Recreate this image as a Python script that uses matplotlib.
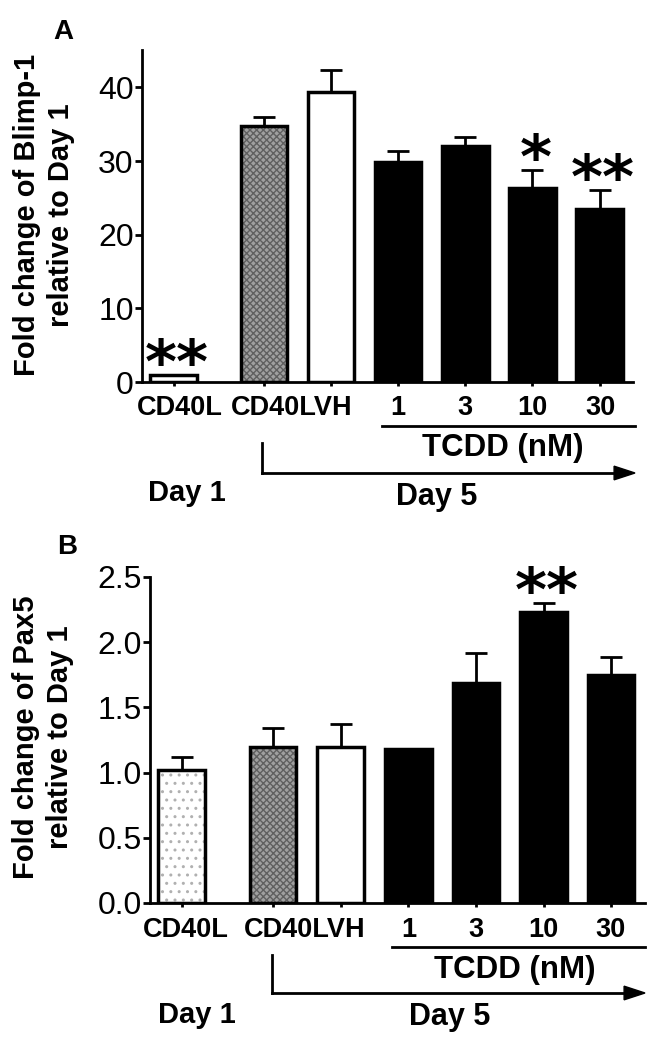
import numpy as np
import matplotlib.pyplot as plt

plt.rcParams['font.family'] = ['Liberation Sans', 'DejaVu Sans']

# データ
labels = ["CD40L", "CD40L", "VH", "1", "3", "10", "30"]
blimp_mean = [1.0, 34.8, 39.3, 29.9, 32.0, 26.3, 23.5]
blimp_err = [0.0, 1.1, 3.0, 1.4, 1.3, 2.5, 2.6]
blimp_stars = ["**", "", "", "", "", "*", "**"]
pax5_mean = [1.02, 1.20, 1.20, 1.18, 1.69, 2.23, 1.75]
pax5_err = [0.10, 0.14, 0.17, 0.0, 0.23, 0.07, 0.14]
pax5_stars = ["", "", "", "", "", "**", ""]

pos = np.array([0, 1.35, 2.35, 3.35, 4.35, 5.35, 6.35])
width = 0.69


def draw_panel(ax, mean, err, stars, first_hatch, ylim, yticks, yticklabels):
    # 塗り
    styles = [first_hatch, "gray", "white", "black", "black", "black", "black"]
    for i, s in enumerate(styles):
        if s == "dots":
            ax.bar(pos[i], mean[i], width, color="white", hatch="..", edgecolor="#b0b0b0", lw=0, zorder=2)
        elif s == "gray":
            ax.bar(pos[i], mean[i], width, color="#a0a0a0", hatch="xxxxx", edgecolor="#606060", lw=0, zorder=2)
        else:
            ax.bar(pos[i], mean[i], width, color=s, lw=0, zorder=2)
        ax.bar(pos[i], mean[i], width, facecolor="none", edgecolor="black", lw=2.5, zorder=3)
    # エラーバー（上だけ）
    ax.errorbar(pos, mean, yerr=[np.zeros(len(err)), err], fmt="none", ecolor="black",
                elinewidth=2, capsize=8, capthick=2, zorder=1)
    for i, s in enumerate(stars):
        if s:
            ax.annotate(s, (pos[i] + 0.05, mean[i] + err[i]), xytext=(0, 6), textcoords="offset points",
                        ha="center", va="center", fontsize=44, fontweight="bold", family="DejaVu Sans")
    ax.set_ylim(*ylim)
    ax.set_xlim(-0.47, 6.85)
    ax.set_yticks(yticks)
    ax.set_yticklabels(yticklabels, fontsize=23)
    ax.set_xticks(pos)
    ax.set_xticklabels([])
    for sp in ["top", "right"]:
        ax.spines[sp].set_visible(False)
    for sp in ["left", "bottom"]:
        ax.spines[sp].set_linewidth(2)
    ax.tick_params(axis="y", length=5, width=2, pad=1)
    ax.tick_params(axis="x", length=6, width=2, direction="inout")


fig = plt.figure(figsize=(6.53, 10.5), dpi=100)

axA = fig.add_axes([0.2175, 0.636, 0.752, 0.316])
draw_panel(axA, blimp_mean, blimp_err, blimp_stars, "white", (0, 45), [0, 10, 20, 30, 40],
           ["0", "10", "20", "30", "40"])

axB = fig.add_axes([0.2297, 0.14, 0.758, 0.3105])
draw_panel(axB, pax5_mean, pax5_err, pax5_stars, "dots", (0, 2.5), [0, 0.5, 1.0, 1.5, 2.0, 2.5],
           ["0.0", "0.5", "1.0", "1.5", "2.0", "2.5"])


# 下の注釈（ピクセル座標で）
def px(x, y):
    return x / 653, 1 - y / 1050


def annot(tick_y, xs, bracket_y, bracket_x0, bracket_x1, tcdd, arrow_y, arrow_x0, arrow_x1, vtop, day1, day5):
    for x, lab in xs:
        fig.text(*px(x, tick_y), lab, ha="center", va="center", fontsize=19.5, fontweight="bold")
    x0, y0 = px(bracket_x0, bracket_y)
    x1, _ = px(bracket_x1, bracket_y)
    fig.add_artist(plt.Line2D([x0, x1], [y0, y0], color="black", lw=2))
    fig.text(*px(*tcdd), "TCDD (nM)", ha="center", va="center", fontsize=22.5, fontweight="bold")
    ax0, ay = px(arrow_x0, arrow_y)
    ax1, _ = px(arrow_x1, arrow_y)
    _, vy = px(arrow_x0, vtop)
    fig.add_artist(plt.Line2D([ax0, ax0], [vy, ay], color="black", lw=2))
    fig.add_artist(plt.Line2D([ax0, ax1 - 0.02], [ay, ay], color="black", lw=2))
    fig.patches.append(plt.Polygon([[ax1, ay], [ax1 - 0.032, ay + 0.0065], [ax1 - 0.032, ay - 0.0065]],
                                   closed=True, color="black", transform=fig.transFigure))
    fig.text(*px(*day1), "Day 1", ha="center", va="center", fontsize=21, fontweight="bold")
    fig.text(*px(*day5), "Day 5", ha="center", va="center", fontsize=22, fontweight="bold")


annot(408, [(180, "CD40L"), (292, "CD40LVH"), (398, "1"), (465, "3"), (532, "10"), (600, "30")],
      426, 382, 635, (503, 448), 473, 262, 635, 443, (187, 493), (437, 497))
annot(930, [(186, "CD40L"), (305, "CD40LVH"), (409, "1"), (476, "3"), (543, "10"), (610, "30")],
      947, 392, 645, (515, 970), 993, 272, 645, 955, (197, 1015), (450, 1017))

# y軸ラベル
fig.text(*px(44, 215), "Fold change of Blimp-1\nrelative to Day 1", rotation=90, ha="center", va="center",
         fontsize=21, fontweight="bold", linespacing=1.25)
fig.text(*px(43, 737), "Fold change of Pax5\nrelative to Day 1", rotation=90, ha="center", va="center",
         fontsize=21, fontweight="bold", linespacing=1.25)

fig.text(*px(63, 32), "A", fontsize=20, fontweight="bold", ha="center", va="center")
fig.text(*px(67, 547), "B", fontsize=20, fontweight="bold", ha="center", va="center")

fig.savefig("out.png", dpi=100)
